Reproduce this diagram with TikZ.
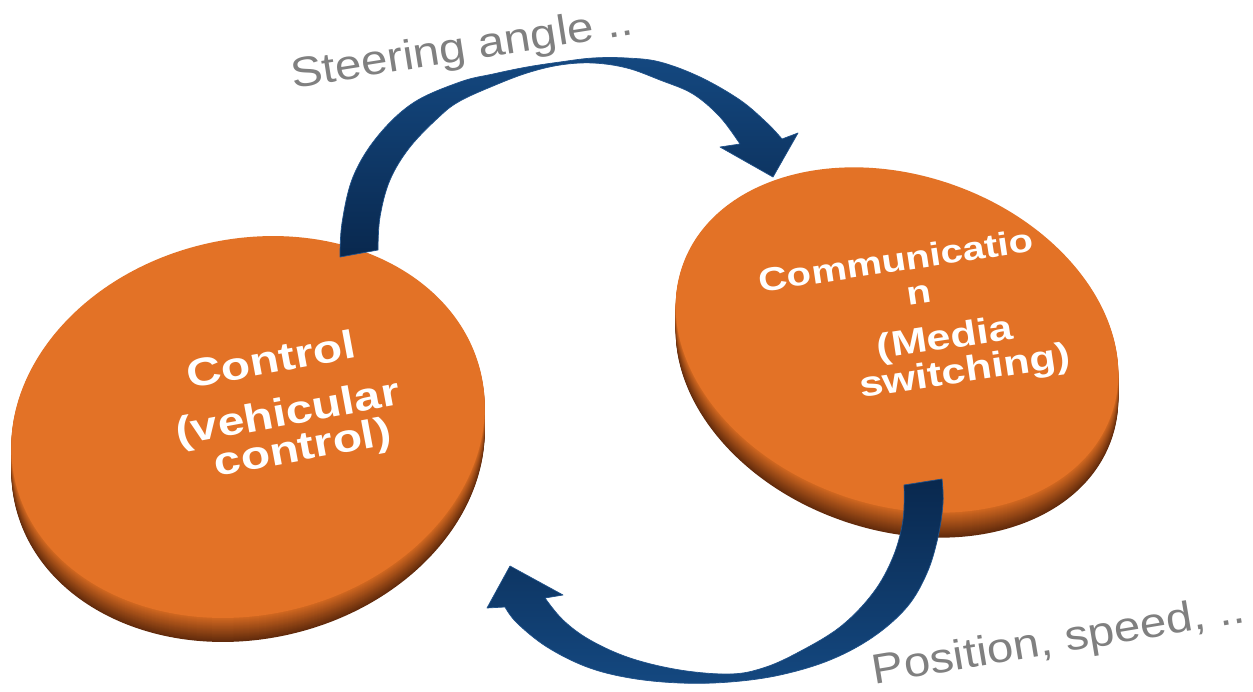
\documentclass[tikz,border=0pt]{standalone}
\usepackage{fontspec}
\setmainfont{Liberation Sans}
% wide cuts of the sans face for the flattened captions
\newfontfamily\diskfont[FakeStretch=1.22]{Liberation Sans}
\newfontfamily\flowfont[FakeStretch=1.13]{Liberation Sans}
\usetikzlibrary{calc,shapes.geometric}

\definecolor{facecolor}{RGB}{227,114,38}
\definecolor{sidelight}{RGB}{206,102,32}
\definecolor{sidedark}{RGB}{98,43,12}
\definecolor{arrowdark}{RGB}{9,40,78}
\definecolor{arrowlight}{RGB}{20,72,128}
\definecolor{arrowedge}{RGB}{32,82,138}
\definecolor{labelgray}{RGB}{128,128,128}

\tikzset{
  diskface/.style={ellipse, fill=facecolor, draw=none, inner sep=0pt},
  disktext/.style={text=white, inner sep=0pt, align=center},
  flowarrow/.style={top color=arrowlight, bottom color=arrowdark, draw=arrowedge, line width=0.7pt, line join=round},
  sidelabel/.style={text=labelgray, inner sep=0pt, font=\flowfont\fontsize{42}{50}\selectfont},
}

% bold white caption line on a disk: name, position, angle, size, text
\newcommand\DiskLine[5]{%
  \node[disktext, rotate=#3, font=\diskfont\fontsize{#4}{#4}\selectfont\bfseries]
    (#1) at (#2) {#5};
}

\begin{document}
\begin{tikzpicture}[x=1pt,y=-1pt]
\useasboundingbox (0,0) rectangle (1253,691);
\fill[white] (0,0) rectangle (1253,691);

% ---- side walls of the two disks (stacked ellipses give a vertical gradient)
\foreach \i in {24,...,1}{
  \pgfmathtruncatemacro\m{round(100*(\i-1)/23)}
  \pgfmathsetmacro\yy{427+\i}
  \fill[sidedark!\m!sidelight, rotate around={13:(248,\yy)}]
    (248,\yy) ellipse [x radius=239, y radius=188];
}
\foreach \i in {25,...,1}{
  \pgfmathtruncatemacro\m{round(100*(\i-1)/24)}
  \pgfmathsetmacro\yy{340+\i}
  \fill[sidedark!\m!sidelight, rotate around={-19:(897,\yy)}]
    (897,\yy) ellipse [x radius=227, y radius=165];
}

% ---- top faces
\node[diskface, minimum width=478pt, minimum height=376pt, rotate=13] (ctrl) at (248,427) {};
\node[diskface, minimum width=454pt, minimum height=330pt, rotate=-19] (comm) at (897,340) {};

% ---- disk captions
\DiskLine{ctrlA}{271,359}{10.5}{39.4}{Control}
\DiskLine{ctrlB}{288,415}{10.5}{39.4}{(vehicular}
\DiskLine{ctrlC}{303,450}{10.5}{39.4}{control)}

\DiskLine{commA}{896,260}{8.5}{32.8}{Communicatio}
\DiskLine{commB}{919,295}{8.5}{32.8}{n}
\DiskLine{commC}{945,340}{8.5}{35.3}{(Media}
\DiskLine{commD}{965,373}{8.5}{35.3}{switching)}

% ---- arrow from Control over the top to Communication
\coordinate (sBaseOut) at (340,257);
\coordinate (sBaseIn)  at (378,250);
\coordinate (sNeckOut) at (782,139);
\coordinate (sBarbOut) at (798,133);
\coordinate (sTip)     at (773,177);
\coordinate (sBarbIn)  at (720,147);
\coordinate (sNeckIn)  at (740,144);
\path[flowarrow]
  (sBaseOut)
  -- plot[smooth, tension=0.6] coordinates {(340,257) (342,223) (353,177) (377,137) (413,103)
       (460,82) (493,74) (527,67) (560,62) (593,58) (627,58) (660,62) (700,77) (740,100)
       (767,123) (782,139)}
  -- (sBarbOut) -- (sTip) -- (sBarbIn) -- (sNeckIn)
  -- plot[smooth, tension=0.6] coordinates {(740,144) (720,117) (693,94) (660,80) (627,68)
       (593,63) (560,65) (527,73) (493,86) (460,101) (440,116) (410,147) (390,180)
       (380,217) (378,250)}
  -- (sBaseIn) -- cycle;

% ---- arrow from Communication under the bottom back to Control
\coordinate (pBaseOut) at (942,479);
\coordinate (pBaseIn)  at (904,485);
\coordinate (pNeckOut) at (505,607);
\coordinate (pBarbOut) at (487,608);
\coordinate (pTip)     at (510,566);
\coordinate (pBarbIn)  at (563,595);
\coordinate (pNeckIn)  at (545,598);
\path[flowarrow, top color=arrowdark, bottom color=arrowlight]
  (pBaseOut)
  -- plot[smooth, tension=0.6] coordinates {(942,479) (943,503) (938,537) (927,573) (907,607)
       (873,637) (830,660) (780,675) (730,682) (680,683) (630,678) (587,667) (547,647)
       (517,623) (505,607)}
  -- (pBarbOut) -- (pTip) -- (pBarbIn) -- (pNeckIn)
  -- plot[smooth, tension=0.6] coordinates {(545,598) (563,620) (590,640) (630,658) (680,670)
       (730,674) (763,668) (797,653) (840,627) (873,593) (893,557) (903,520) (904,485)}
  -- (pBaseIn) -- cycle;

% ---- grey captions of the two flows
\node[sidelabel, rotate=9, anchor=base] (steer) at (464,61) {Steering angle ..};
\node[sidelabel, rotate=9.5, anchor=base] (posspeed) at (1061,653) {Position, speed, ..};
\end{tikzpicture}
\end{document}
